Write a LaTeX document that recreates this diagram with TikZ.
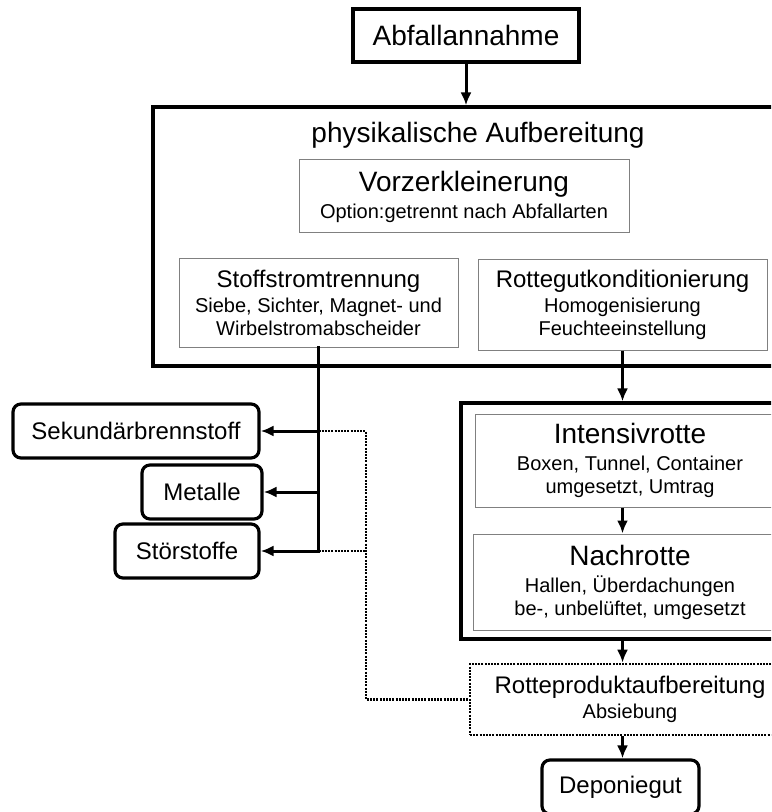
\documentclass[tikz,border=0pt]{standalone}
\usepackage{fontspec}
\setmainfont{Liberation Sans}
\usetikzlibrary{arrows.meta,positioning}
\newcommand{\bigtxt}{\fontsize{14}{16.8}\selectfont}
\newcommand{\midtxt}{\fontsize{12}{14.4}\selectfont}
\newcommand{\smalltxt}{\fontsize{10}{11.5}\selectfont}
\tikzset{
  basic/.style  = {draw, inner sep=0pt, align=center},
  stage/.style  = {basic, line width=1.6pt, font=\bigtxt},
  group/.style  = {basic, line width=1.6pt},
  inner/.style  = {basic, draw=black!50, line width=0.5pt, font=\smalltxt},
  after/.style  = {basic, line width=1.3pt, dash pattern=on 1pt off 0.6pt,
                   font=\smalltxt},
  output/.style = {basic, rounded corners=4pt, line width=1.6pt, font=\midtxt},
  flow/.style   = {->, line width=1.5pt},
  dotline/.style = {line width=1.3pt, dash pattern=on 1pt off 0.6pt},
}

\begin{document}
\begin{tikzpicture}[x=0.5pt, y=-0.5pt, >={Latex[length=6.5pt,width=5.5pt]}]
\useasboundingbox (0,0) rectangle (771,812);
\clip (0,0) rectangle (771,812);

% Annahme
\node[stage, minimum width=113pt, minimum height=26.5pt] (abf) at (466,35.5) {Abfallannahme};

% physikalische Aufbereitung
\node[group, minimum width=325pt, minimum height=129.5pt,
      label={[font=\bigtxt, anchor=north, yshift=-5pt]north:physikalische Aufbereitung}]
      (phys) at (478,236.5) {};
\node[inner, minimum width=165pt, minimum height=36.5pt] (vor) at (464,196.5)
  {{\bigtxt Vorzerkleinerung}\\[2pt] Option:getrennt nach Abfallarten};
\node[inner, minimum width=139.5pt, minimum height=44pt] (sst) at (318.5,303)
  {{\midtxt Stoffstromtrennung}\\[1pt] Siebe, Sichter, Magnet- und\\ Wirbelstromabscheider};
\node[inner, minimum width=144.5pt, minimum height=45pt] (rgk) at (622.5,305)
  {{\midtxt Rottegutkonditionierung}\\[1pt] Homogenisierung\\ Feuchteeinstellung};

% Rotte
\node[group, minimum width=169pt, minimum height=118pt] (rott) at (630,521) {};
\node[inner, minimum width=155pt, minimum height=46.5pt] (int) at (630,460.5)
  {{\bigtxt Intensivrotte}\\[2pt] Boxen, Tunnel, Container\\ umgesetzt, Umtrag};
\node[inner, minimum width=157pt, minimum height=48pt] (nach) at (630,582)
  {{\bigtxt Nachrotte}\\[2pt] Hallen, Überdachungen\\ be-, unbelüftet, umgesetzt};
\node[after, minimum width=160pt, minimum height=35.5pt] (rpa) at (630,699.5)
  {{\midtxt Rotteproduktaufbereitung}\\[1pt] Absiebung};
\node[output, minimum width=78.5pt, minimum height=27pt] (dep) at (620.5,787) {Deponiegut};

% Ausschleusung
\node[output, minimum width=123pt, minimum height=27pt] (sek) at (136,431) {Sekundärbrennstoff};
\node[output, minimum width=60pt, minimum height=27pt] (met) at (202,492) {Metalle};
\node[output, minimum width=72pt, minimum height=27pt] (stoer) at (187,551) {Störstoffe};

% Pfeile
\draw[flow] (abf) -- (abf.south |- phys.north);
\draw[flow] (rgk) -- (rgk.south |- rott.north);
\draw[flow] (int.south -| rgk.south) -- (nach.north -| rgk.south);
\draw[flow] (rott.south -| rgk.south) -- (rpa.north -| rgk.south);
\draw[flow] (rpa.south -| rgk.south) -- (dep.north -| rgk.south);

\draw[line width=1.6pt, line cap=rect] (sst) -- (sst.south |- stoer.east);
\foreach \out in {sek,met,stoer}
  \draw[flow] (sst.south |- \out.east) -- (\out.east);

% Rueckfuehrung
\coordinate (ret) at (366,431);
\draw[dotline] (sst.south |- sek.east) -- (ret) -- (ret |- rpa.west) -- (rpa.west);
\draw[dotline] (sst.south |- stoer.east) -- (ret |- stoer.east);

\end{tikzpicture}
\end{document}
